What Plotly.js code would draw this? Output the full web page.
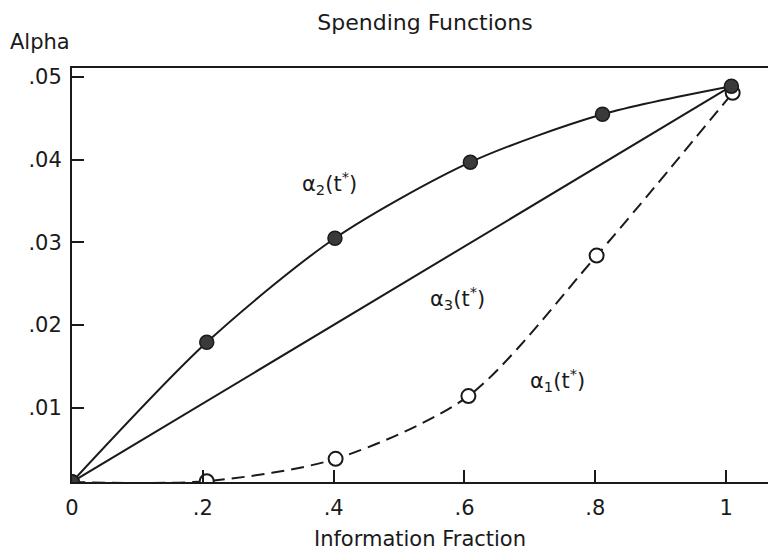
<!DOCTYPE html>
<html>
<head>
<meta charset="utf-8">
<script src="https://cdn.plot.ly/plotly-3.0.1.min.js"></script>
<style>html,body{margin:0;padding:0;background:#fff;}#chart{width:768px;height:554px;}</style>
</head>
<body>
<div id="chart"></div>
<script>
// Data
const alpha2X = [0, 0.206, 0.402, 0.609, 0.811, 1.008];
const alpha2Y = [0.001, 0.0179, 0.0305, 0.0397, 0.0455, 0.0489];
const alpha1X = [0, 0.206, 0.403, 0.606, 0.802, 1.01];
const alpha1Y = [0.001, 0.0011, 0.0038, 0.0114, 0.0284, 0.0481];
const alpha3X = [0, 1.008];
const alpha3Y = [0.001, 0.0489];
const xTickVals = [0, 0.2, 0.4, 0.6, 0.8, 1];
const xTickText = ['0', '.2', '.4', '.6', '.8', '1'];
const yTickVals = [0.01, 0.02, 0.03, 0.04, 0.05];
const yTickText = ['.01', '.02', '.03', '.04', '.05'];
const labels = ['α<sub>2</sub>(t<sup>*</sup>)', 'α<sub>3</sub>(t<sup>*</sup>)', 'α<sub>1</sub>(t<sup>*</sup>)'];
const labelX = [0.394, 0.59, 0.742];
const labelY = [0.0372, 0.0233, 0.0134];

const font = 'DejaVu Sans, Liberation Sans, Arial, sans-serif';
const ink = '#1a1a1a';

const traces = [
  {x: alpha3X, y: alpha3Y, mode: 'lines', line: {color: ink, width: 2}, hoverinfo: 'skip'},
  {x: alpha1X, y: alpha1Y, mode: 'lines+markers', line: {color: ink, width: 2, dash: '13px,7px', shape: 'spline', smoothing: 0.8},
   marker: {size: 14, color: '#ffffff', line: {color: ink, width: 2}}},
  {x: alpha2X, y: alpha2Y, mode: 'lines+markers', line: {color: ink, width: 2, shape: 'spline', smoothing: 0.8},
   marker: {size: 14, color: '#3a3a3a', line: {color: ink, width: 1.5}}}
];

const annotations = labels.map((t, i) => ({
  x: labelX[i], y: labelY[i], xref: 'x', yref: 'y', text: t, showarrow: false,
  xanchor: 'center', yanchor: 'middle',
  font: {family: font, size: 21, color: ink}
}));
annotations.push({
  x: (40 - 72) / 696, y: (554 - 72 - 42) / (554 - 68 - 72), xref: 'paper', yref: 'paper',
  xanchor: 'center', yanchor: 'middle',
  text: 'Alpha', showarrow: false, font: {family: font, size: 21, color: ink}
});

const layout = {
  width: 768, height: 554,
  margin: {l: 72, r: 0, t: 68, b: 72, pad: 0},
  paper_bgcolor: '#fff', plot_bgcolor: '#fff',
  showlegend: false,
  title: {text: 'Spending Functions', font: {family: font, size: 22, color: ink},
          x: 425 / 768, xref: 'container', xanchor: 'center', y: 1 - 22 / 554, yref: 'container', yanchor: 'middle'},
  xaxis: {
    range: [0, 1.064], tickvals: xTickVals, ticktext: xTickText,
    ticks: 'inside', ticklen: 12, tickwidth: 2, tickcolor: ink,
    showline: true, linecolor: ink, linewidth: 2, mirror: true,
    showgrid: false, zeroline: false, ticklabelstandoff: 6,
    tickfont: {family: font, size: 21, color: ink},
    title: {text: 'Information Fraction', font: {family: font, size: 21, color: ink}, standoff: 12}
  },
  yaxis: {
    range: [0.001, 0.0511], tickvals: yTickVals, ticktext: yTickText,
    ticks: 'inside', ticklen: 12, tickwidth: 2, tickcolor: ink,
    showline: true, linecolor: ink, linewidth: 2, mirror: false,
    showgrid: false, zeroline: false, ticklabelstandoff: 4,
    tickfont: {family: font, size: 21, color: ink}
  },
  annotations: annotations
};

Plotly.newPlot('chart', traces, layout, {staticPlot: true});
</script>
</body>
</html>
